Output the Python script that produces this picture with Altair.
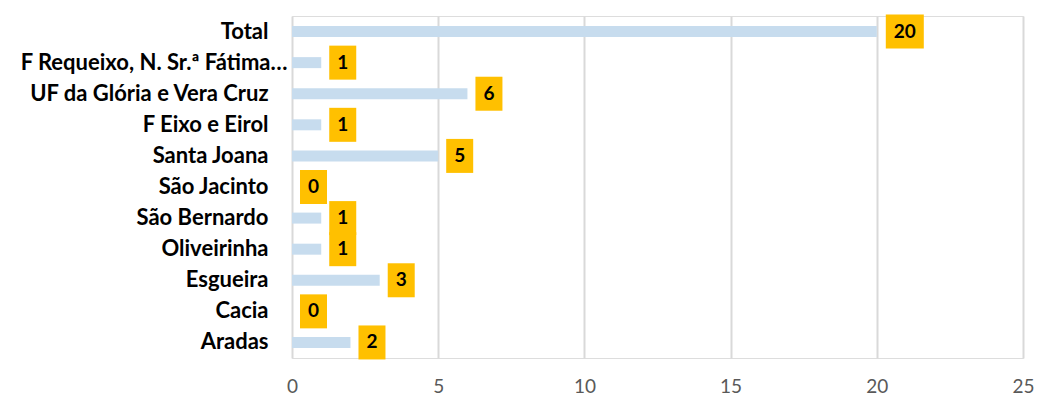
import altair as alt
import pandas as pd

# Occurrences per parish (top to bottom as listed)
categories = [
    "Total ",
    "F Requeixo, N. Sr.ª Fátima…",
    "UF da Glória e Vera Cruz",
    "F Eixo e Eirol ",
    "Santa Joana",
    "São Jacinto",
    "São Bernardo",
    "Oliveirinha",
    "Esgueira",
    "Cacia",
    "Aradas",
]
values = [20, 1, 6, 1, 5, 0, 1, 1, 3, 0, 2]
x_ticks = [0, 5, 10, 15, 20, 25]

df = pd.DataFrame({"cat": categories, "value": values})
df["label"] = df["value"].astype(str)
df["wide"] = df["label"].str.len() > 1

font = "Lato"
long_label = categories[1]

y_enc = alt.Y(
    "cat:N",
    sort=categories,
    title=None,
    scale=alt.Scale(paddingInner=0.0, paddingOuter=0.0),
    axis=alt.Axis(
        domain=False,
        ticks=False,
        grid=False,
        labelFont=font,
        labelFontSize=22,
        labelFontWeight="bold",
        labelColor="#000000",
        labelPadding={
            "condition": {"test": f"datum.value === '{long_label}'", "value": 5},
            "value": 24,
        },
        labelLimit=300,
    ),
)
x_enc = alt.X(
    "value:Q",
    title=None,
    scale=alt.Scale(domain=[0, 25], nice=False),
    axis=alt.Axis(
        values=x_ticks,
        domain=False,
        ticks=False,
        grid=True,
        gridColor="#D9D9D9",
        gridWidth=2,
        labelFont=font,
        labelFontSize=19,
        labelColor="#595959",
        labelPadding=19,
        labelFlush=False,
    ),
)

base = alt.Chart(df)

bars = base.mark_bar(color="#C7DCEE", size=11).encode(x=x_enc, y=y_enc)

narrow = base.transform_filter("!datum.wide")
wide = base.transform_filter("datum.wide")

box_narrow = narrow.mark_rect(color="#FFC000", width=27, height=34, xOffset=21.5).encode(
    x="value:Q", y=alt.Y("cat:N", sort=categories)
)
box_wide = wide.mark_rect(color="#FFC000", width=38, height=34, xOffset=28).encode(
    x="value:Q", y=alt.Y("cat:N", sort=categories)
)
txt_narrow = narrow.mark_text(
    font=font, fontSize=19, fontWeight="bold", color="#000000", dx=21.5, baseline="middle"
).encode(x="value:Q", y=alt.Y("cat:N", sort=categories), text="label:N")
txt_wide = wide.mark_text(
    font=font, fontSize=19, fontWeight="bold", color="#000000", dx=28, baseline="middle"
).encode(x="value:Q", y=alt.Y("cat:N", sort=categories), text="label:N")

chart = (
    alt.layer(bars, box_narrow, box_wide, txt_narrow, txt_wide)
    .properties(
        width=731,
        height=342,
        autosize=alt.AutoSizeParams(type="none"),
        padding={"left": 292, "top": 16, "right": 14, "bottom": 38},
    )
    .configure_view(stroke=None)
    .configure(background="#FFFFFF")
)

chart.save("out.html", embed_options={"renderer": "svg", "actions": False})
